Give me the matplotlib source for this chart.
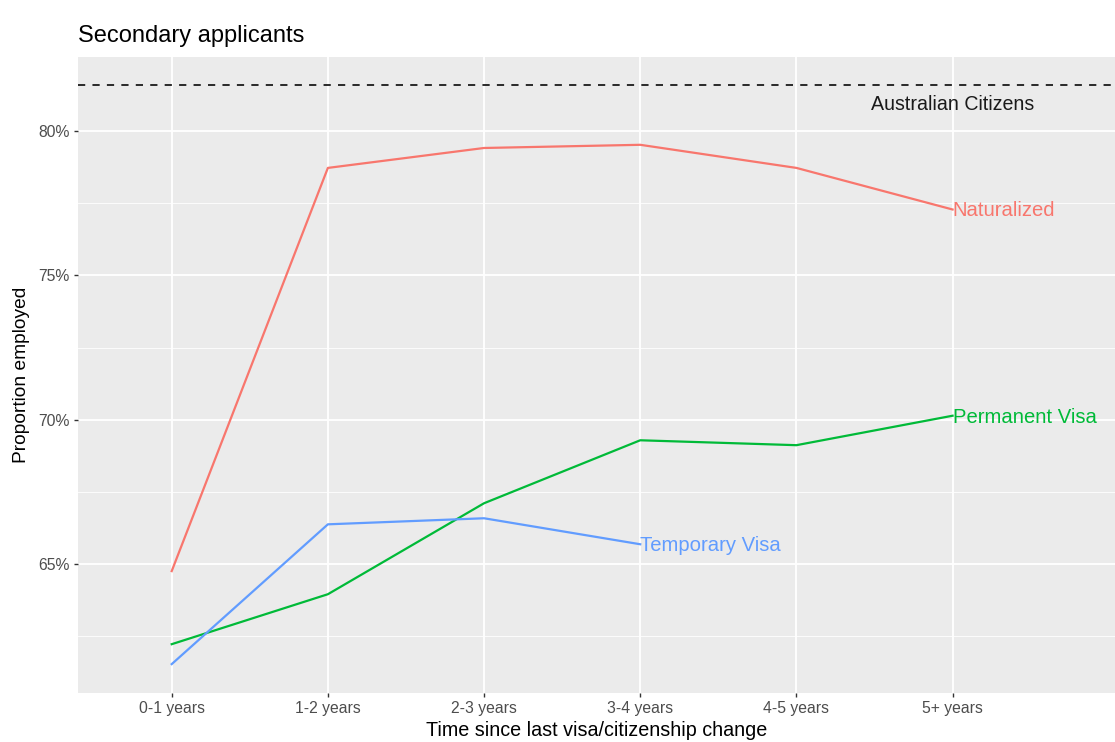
import matplotlib
matplotlib.use("Agg")
import matplotlib.pyplot as plt
from matplotlib.ticker import FixedLocator, FuncFormatter

plt.rcParams["font.family"] = ["Liberation Sans", "DejaVu Sans"]

# data
periods = ["0-1 years", "1-2 years", "2-3 years", "3-4 years", "4-5 years", "5+ years"]
naturalized = [64.76, 78.72, 79.41, 79.52, 78.72, 77.28]
permanent = [62.23, 63.96, 67.11, 69.29, 69.12, 70.14]
temporary = [61.54, 66.38, 66.59, 65.69]
citizens = 81.59

series = [
    ("Naturalized", naturalized, "#F8766D"),
    ("Permanent Visa", permanent, "#00BA38"),
    ("Temporary Visa", temporary, "#619CFF"),
]

fig = plt.figure(figsize=(11.15, 7.42), dpi=100)
ax = fig.add_axes([78 / 1115, 1 - 693 / 742, 1 - 78 / 1115, (693 - 57) / 742])
ax.set_facecolor("#EBEBEB")
for s in ax.spines.values():
    s.set_visible(False)

x_all = list(range(1, len(periods) + 1))
ax.set_xlim(0.4, 7.04)
ax.set_ylim(60.54, 82.56)

ax.xaxis.set_major_locator(FixedLocator(x_all))
ax.set_xticklabels(periods)
ax.yaxis.set_major_locator(FixedLocator([65, 70, 75, 80]))
ax.yaxis.set_minor_locator(FixedLocator([62.5, 67.5, 72.5, 77.5]))
ax.yaxis.set_major_formatter(FuncFormatter(lambda v, p: f"{v:.0f}%"))

ax.grid(True, which="major", color="white", lw=1.3)
ax.grid(True, which="minor", axis="y", color="white", lw=0.6)
ax.set_axisbelow(True)
ax.tick_params(which="major", length=3, width=1, color="#333333", labelcolor="#4D4D4D",
               labelsize=11.3, pad=3)
ax.tick_params(which="minor", length=0)

ax.axhline(citizens, color="#1a1a1a", lw=1.3, ls=(0, (4, 4)))
ax.text(6, citizens - 0.68, "Australian Citizens", ha="center", va="center",
        fontsize=14.1, color="#1a1a1a")

for name, vals, col in series:
    xs = x_all[:len(vals)]
    ax.plot(xs, vals, color=col, lw=1.6)
    ax.text(xs[-1], vals[-1] - 0.05, name, color=col, fontsize=14.6, ha="left", va="center")

ax.set_xlabel("Time since last visa/citizenship change", fontsize=14.2, labelpad=3)
ax.set_ylabel("Proportion employed", fontsize=13.8, labelpad=6)
ax.set_title("Secondary applicants", loc="left", fontsize=17, pad=11)

fig.savefig("out.png", dpi=100)
